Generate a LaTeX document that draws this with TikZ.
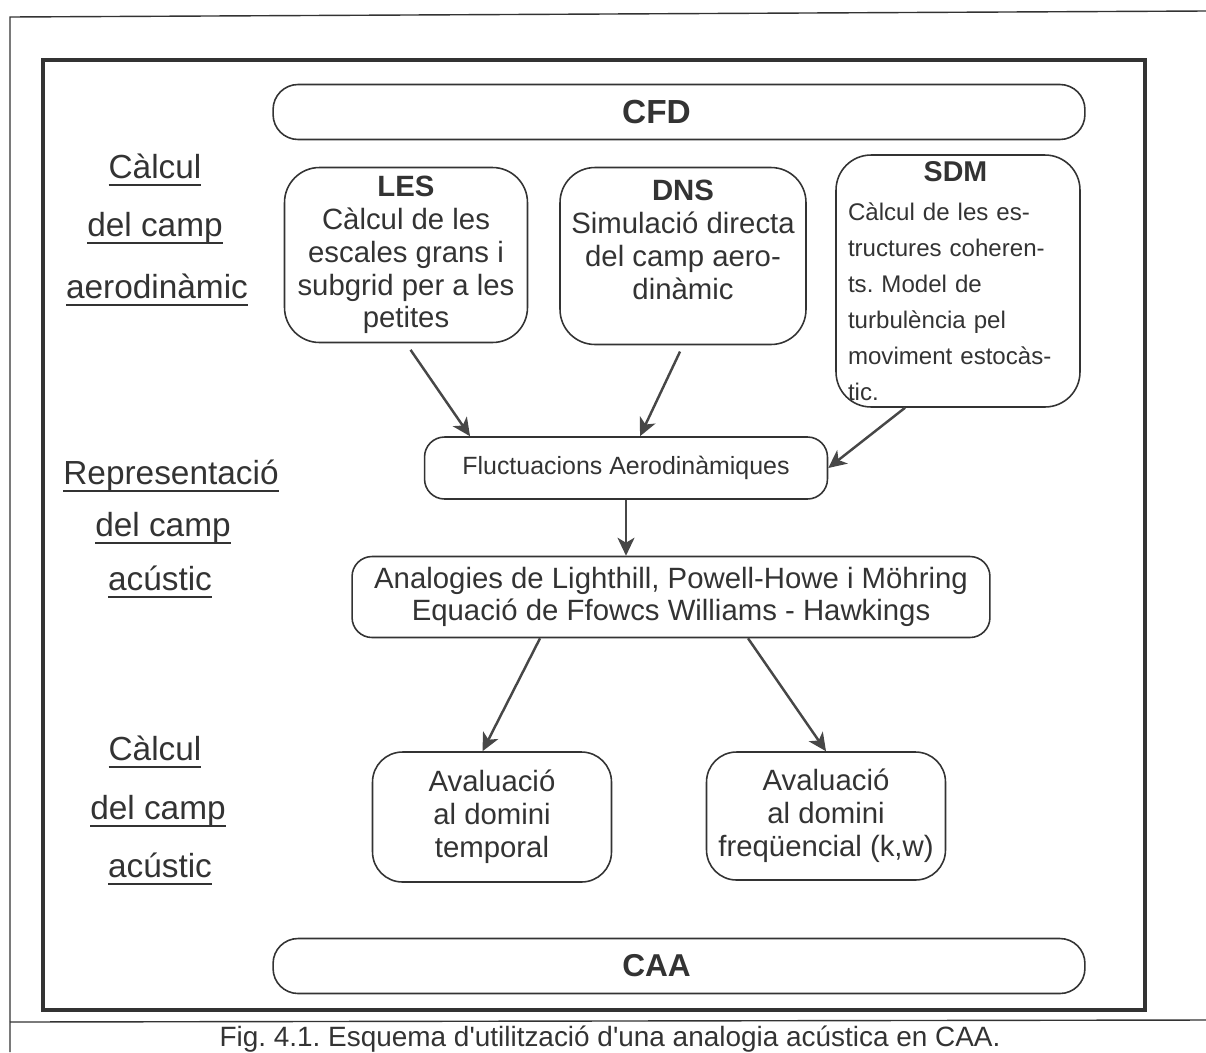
\documentclass[tikz,border=0pt]{standalone}
\usepackage{fontspec}
\setmainfont{Liberation Sans}
\usetikzlibrary{arrows.meta}
\definecolor{inkc}{HTML}{333333}
\definecolor{arrc}{HTML}{474747}
\frenchspacing
% underlined label, fixed depth under the baseline
\newcommand{\ulab}[1]{\setbox0\hbox{#1}\rlap{\rule[-4.6pt]{\wd0}{1.1pt}}\box0}
\begin{document}
\begin{tikzpicture}[x=0.02cm, y=-0.02cm,
  box/.style={draw=inkc, line width=0.9pt, rounded corners=0.7cm, align=center, inner sep=0pt, text=inkc, font=\fontsize{16.7}{18.7}\selectfont},
  bar/.style={box, rounded corners=0.5cm, minimum width=16.24cm, minimum height=1.1cm},
  side/.style={anchor=base, text=inkc, font=\fontsize{19}{22}\selectfont},
  arr/.style={draw=arrc, line width=1.4pt, -{Stealth[length=0.36cm, width=0.34cm, inset=0.1cm]}}]
\useasboundingbox (0,0) rectangle (1206,1052);
% frames
\draw[inkc, line width=0.8pt] (10,1052) -- (10,17) -- (1206,11);
\draw[inkc, line width=0.8pt] (10,1022) -- (1206,1020);
\draw[inkc, line width=1.8pt] (43,60) rectangle (1145,1010);

\node[bar, font=\fontsize{19}{22}\selectfont\bfseries] (cfd) at (679,112) {CFD\hspace*{0.9cm}};
\node[bar, font=\fontsize{18}{22}\selectfont\bfseries] (caa) at (679,966) {CAA\hspace*{0.9cm}};

\node[box, minimum width=4.86cm, minimum height=3.5cm] (les) at (406,255) {\textbf{LES}\\Càlcul de les\\escales grans i\\subgrid per a les\\petites};
\node[box, minimum width=4.92cm, minimum height=3.54cm] (dns) at (683,256) {\textbf{DNS}\\Simulació directa\\del camp aero-\\dinàmic\\\mbox{}};
\node[box, minimum width=4.88cm, minimum height=5.04cm, text width=4.4cm, align=left, font=\fontsize{13.7}{20.4}\selectfont] (sdm) at (958,281) {\makebox[4.3cm]{\fontsize{16.3}{20}\selectfont\textbf{SDM}}\\[2pt]Càlcul de les es-\\tructures coheren-\\ts. Model de\\turbulència pel\\moviment estocàs-\\tic.};

\node[box, rounded corners=0.4cm, minimum width=8.06cm, minimum height=1.24cm, font=\fontsize{14.2}{16}\selectfont] (fluct) at (626,468) {Fluctuacions Aerodinàmiques};
\node[box, rounded corners=0.4cm, minimum width=12.76cm, minimum height=1.62cm, font=\fontsize{16.7}{18.1}\selectfont] (anlg) at (671,597) {Analogies de Lighthill, Powell-Howe i Möhring\\Equació de Ffowcs Williams - Hawkings};

\node[box, rounded corners=0.6cm, minimum width=4.78cm, minimum height=2.6cm] (temp) at (492,817) {Avaluació\\al domini\\temporal};
\node[box, rounded corners=0.6cm, minimum width=4.78cm, minimum height=2.56cm] (freq) at (826,816) {Avaluació\\al domini\\freqüencial (k,w)};

% side labels
\node[side] (l11) at (155,178) {\ulab{Càlcul}};
\node[side] (l12) at (155,236) {\ulab{del camp}};
\node[side] (l13) at (157,298) {\ulab{aerodinàmic}};
\node[side] (l21) at (171,484) {\ulab{Representació}};
\node[side] (l22) at (163,536) {\ulab{del camp}};
\node[side] (l23) at (160,590) {\ulab{acústic}};
\node[side] (l31) at (155,760) {\ulab{Càlcul}};
\node[side] (l32) at (158,819) {\ulab{del camp}};
\node[side] (l33) at (160,877) {\ulab{acústic}};

\node[anchor=base, text=inkc, font=\fontsize{15.9}{18}\selectfont] (cap) at (610,1046) {Fig. 4.1. Esquema d\textquotesingle utilització d\textquotesingle una analogia acústica en CAA.};

% arrows
\draw[arr, shorten <=0.16cm] (les.south) -- ([xshift=-3.12cm]fluct.north);
\draw[arr, shorten <=0.14cm] (dns.south) -- ([xshift=0.28cm]fluct.north);
\draw[arr] ([xshift=-1.06cm]sdm.south) -- (fluct.east);
\draw[arr] (fluct.south) -- (fluct.south |- anlg.north);
\draw[arr] ([xshift=-2.62cm]anlg.south) -- ([xshift=-0.19cm]temp.north);
\draw[arr] ([xshift=1.54cm]anlg.south) -- (freq.north);
\end{tikzpicture}
\end{document}
